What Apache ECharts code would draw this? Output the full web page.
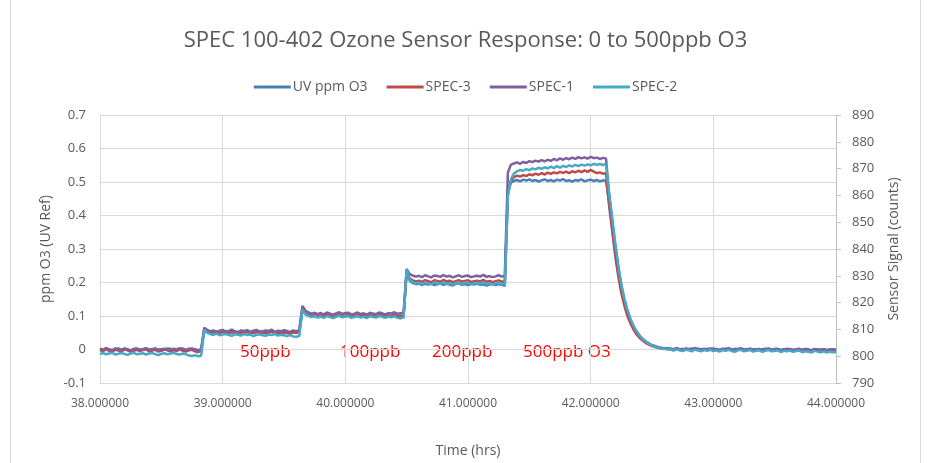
<!DOCTYPE html>
<html><head><meta charset="utf-8">
<script src="https://cdn.jsdelivr.net/npm/echarts@6/dist/echarts.min.js"></script>
<style>html,body{margin:0;padding:0;background:#fff}#c{width:931px;height:463px}</style>
</head><body><div id="c"></div>
<script>
const times = [
38,38.025,38.05,38.075,38.1,38.125,38.15,38.175,38.2,38.225,38.25,38.275,38.3,38.325,38.35,38.375,38.4,38.425,38.45,38.475,38.5,38.525,38.55,38.575,38.6,38.625,38.65,38.675,38.7,38.725,38.75,38.775,38.8,38.825,38.85,38.875,38.9,38.925,38.95,38.975,
39,39.025,39.05,39.075,39.1,39.125,39.15,39.175,39.2,39.225,39.25,39.275,39.3,39.325,39.35,39.375,39.4,39.425,39.45,39.475,39.5,39.525,39.55,39.575,39.6,39.625,39.65,39.675,39.7,39.725,39.75,39.775,39.8,39.825,39.85,39.875,39.9,39.925,39.95,39.975,
40,40.025,40.05,40.075,40.1,40.125,40.15,40.175,40.2,40.225,40.25,40.275,40.3,40.325,40.35,40.375,40.4,40.425,40.45,40.475,40.5,40.525,40.55,40.575,40.6,40.625,40.65,40.675,40.7,40.725,40.75,40.775,40.8,40.825,40.85,40.875,40.9,40.925,40.95,40.975,
41,41.025,41.05,41.075,41.1,41.125,41.15,41.175,41.2,41.225,41.25,41.275,41.3,41.325,41.35,41.375,41.4,41.425,41.45,41.475,41.5,41.525,41.55,41.575,41.6,41.625,41.65,41.675,41.7,41.725,41.75,41.775,41.8,41.825,41.85,41.875,41.9,41.925,41.95,41.975,
42,42.025,42.05,42.075,42.1,42.125,42.15,42.175,42.2,42.225,42.25,42.275,42.3,42.325,42.35,42.375,42.4,42.425,42.45,42.475,42.5,42.525,42.55,42.575,42.6,42.625,42.65,42.675,42.7,42.725,42.75,42.775,42.8,42.825,42.85,42.875,42.9,42.925,42.95,42.975,
43,43.025,43.05,43.075,43.1,43.125,43.15,43.175,43.2,43.225,43.25,43.275,43.3,43.325,43.35,43.375,43.4,43.425,43.45,43.475,43.5,43.525,43.55,43.575,43.6,43.625,43.65,43.675,43.7,43.725,43.75,43.775,43.8,43.825,43.85,43.875,43.9,43.925,43.95,43.975,
44];

// UV reference, ppm O3 (left axis)
const uvPpm = [
0.002,-0.001,0.003,0.000,-0.002,0.001,0.003,-0.001,0.002,0.000,-0.003,0.001,0.002,-0.001,0.000,0.003,0.001,-0.002,0.002,0.000,0.001,-0.001,0.003,0.002,-0.002,0.000,0.001,0.003,-0.001,0.002,0.000,0.001,-0.002,0.001,
0.060,0.055,0.052,0.050,0.053,0.049,0.052,0.054,0.050,0.051,0.053,0.048,0.052,0.050,0.054,0.051,0.049,0.053,0.052,0.050,0.048,0.052,0.054,0.050,0.051,0.053,0.049,0.052,0.050,0.053,0.051,0.054,
0.118,0.106,0.102,0.100,0.103,0.099,0.101,0.098,0.102,0.100,0.097,0.101,0.103,0.099,0.100,0.102,0.098,0.101,0.099,0.103,0.100,0.097,0.101,0.102,0.099,0.100,0.103,0.098,0.101,0.099,0.102,0.100,0.098,0.101,
0.232,0.205,0.198,0.195,0.197,0.193,0.196,0.194,0.198,0.192,0.195,0.197,0.193,0.196,0.194,0.191,0.196,0.198,0.193,0.195,0.192,0.196,0.194,0.197,0.193,0.195,0.191,0.194,0.196,0.192,0.195,0.193,0.190,
0.470,0.498,0.503,0.506,0.502,0.507,0.504,0.508,0.503,0.506,0.501,0.505,0.508,0.503,0.506,0.502,0.507,0.504,0.509,0.503,0.505,0.501,0.506,0.504,0.508,0.502,0.505,0.507,0.503,0.506,0.502,0.505,0.504,
0.440,0.370,0.295,0.232,0.180,0.140,0.108,0.083,0.064,0.049,0.038,0.029,0.022,0.016,0.012,0.009,0.006,0.005,0.003,0.004,
0.002,0.001,0.003,0.000,0.002,-0.001,0.001,0.003,0.000,0.002,
0.001,-0.001,0.002,0.000,0.003,0.001,-0.002,0.001,0.002,0.000,
-0.001,0.002,0.001,0.003,0.000,-0.001,0.002,0.000,0.001,-0.002,
0.001,0.002,0.000,-0.001,0.002,0.001,-0.001,0.000,0.002,0.001,
-0.002,0.000,0.001,-0.001,0.002,0.000,-0.002,0.001,0.000,-0.001,
0.001,-0.002,0.000,0.001,-0.001];

// Sensor signals, counts (right axis)
const spec3 = [
802.3,801.9,802.6,802.0,801.7,802.4,802.1,801.8,802.5,802.2,801.6,802.0,802.4,801.9,802.3,802.6,801.8,802.1,802.4,801.7,802.0,802.5,802.2,801.8,802.3,801.9,802.6,802.0,801.7,802.2,802.4,801.8,801.5,802.0,
809.6,809.0,808.6,808.9,808.4,808.8,809.1,808.5,808.7,809.2,808.6,808.3,808.9,808.7,809.0,808.4,808.8,809.1,808.6,808.5,808.9,808.7,809.2,808.4,808.8,808.6,809.0,808.7,808.3,808.9,808.6,809.1,
818.0,816.0,815.4,815.0,815.3,814.8,815.2,814.7,815.4,815.0,814.6,815.1,815.5,814.9,815.2,815.3,814.7,815.0,815.4,814.8,815.1,814.6,815.3,815.0,814.8,815.4,815.1,814.7,815.2,815.0,815.5,814.9,815.1,815.3,
831.5,829.0,828.3,827.9,828.2,827.7,828.4,828.0,827.6,828.3,828.1,827.8,828.5,827.9,828.2,827.6,828.0,828.4,827.8,828.1,828.3,827.7,828.0,828.2,827.9,828.5,827.8,828.1,827.6,828.0,828.3,827.9,827.7,
861.0,865.5,866.8,867.4,867.0,867.6,867.2,867.9,867.5,868.1,867.7,868.3,867.8,868.5,868.0,868.6,868.2,868.8,868.4,868.9,868.3,869.0,868.6,869.2,868.7,869.3,868.8,869.5,868.9,868.3,868.6,868.1,868.3,
856.3,846.9,837.5,829.8,823.5,818.8,815.0,812.1,809.9,808.1,806.8,805.8,804.9,804.3,803.8,803.4,803.1,802.9,802.8,802.7,
802.6,802.3,802.8,802.4,802.1,802.7,802.5,802.2,802.8,802.4,
802.0,802.6,802.3,802.7,802.2,802.5,802.1,802.6,802.4,802.8,
802.3,802.0,802.5,802.7,802.2,802.4,802.6,802.1,802.3,802.5,
802.0,802.4,802.7,802.2,802.3,802.6,801.9,802.4,802.2,802.5,
802.1,802.3,802.6,802.0,802.4,802.2,801.9,802.5,802.3,802.1,
802.4,802.0,802.3,802.1,802.2];

const spec1 = [
802.8,802.4,803.0,802.5,802.2,802.9,802.6,802.3,802.9,802.5,802.1,802.7,802.9,802.4,802.6,803.0,802.3,802.7,802.9,802.2,802.6,802.8,802.4,802.3,802.8,802.5,803.0,802.6,802.2,802.7,802.9,802.4,802.1,802.5,
810.6,809.8,809.3,809.6,809.1,809.5,809.8,809.2,809.4,809.9,809.3,809.0,809.6,809.4,809.7,809.1,809.5,809.8,809.3,809.2,809.6,809.4,809.9,809.1,809.5,809.3,809.7,809.4,809.0,809.6,809.3,809.8,
818.8,817.0,816.3,815.9,816.2,815.7,816.1,815.6,816.3,815.9,815.5,816.0,816.4,815.8,816.1,816.2,815.6,815.9,816.3,815.7,816.0,815.5,816.2,815.9,815.7,816.3,816.0,815.6,816.1,815.9,816.4,815.8,816.0,816.2,
832.5,830.6,830.1,829.7,830.0,829.5,830.2,829.8,829.4,830.1,829.9,829.6,830.3,829.7,830.0,829.4,829.8,830.2,829.6,829.9,830.1,829.5,829.8,830.0,829.7,830.4,829.6,829.9,829.5,829.8,830.2,829.7,830.0,
868.5,871.5,871.9,872.3,871.8,872.5,872.1,872.8,872.4,873.0,872.6,873.2,872.7,873.3,872.9,873.6,873.1,873.8,873.3,873.9,873.5,874.1,873.6,874.3,873.8,874.2,873.7,874.4,873.9,874.1,873.6,874.0,873.8,
860.0,850.6,841.3,833.1,826.3,821.0,816.9,813.6,811.1,809.1,807.6,806.4,805.5,804.8,804.1,803.8,803.4,803.1,803.0,802.9,
802.8,802.5,803.0,802.6,802.3,802.9,802.7,802.4,803.1,802.6,
802.2,802.8,802.5,802.9,802.4,802.7,802.3,802.8,802.6,803.0,
802.5,802.2,802.7,802.9,802.4,802.6,802.8,802.3,802.5,802.7,
802.2,802.6,802.9,802.4,802.5,802.8,802.1,802.6,802.4,802.7,
802.3,802.5,802.8,802.2,802.6,802.4,802.1,802.7,802.5,802.3,
802.6,802.2,802.5,802.3,802.4];

const spec2 = [
800.8,801.2,800.7,801.0,801.3,800.6,800.9,801.2,800.8,800.5,801.0,801.3,800.7,800.9,801.1,800.6,801.0,801.2,800.8,800.4,800.9,801.1,800.7,801.0,801.3,800.8,800.6,801.0,800.7,800.3,800.1,800.4,800.0,800.2,
809.8,808.7,808.2,808.0,808.4,807.8,808.1,808.3,807.9,807.6,808.2,808.0,807.7,808.3,807.9,808.1,807.5,808.0,808.2,807.8,807.6,808.1,807.9,808.3,807.7,808.0,807.8,807.5,807.9,807.4,807.2,807.6,
817.4,815.6,815.0,814.6,814.9,814.4,814.8,814.3,815.0,814.6,814.2,814.7,815.1,814.5,814.8,814.9,814.3,814.6,815.0,814.4,814.7,814.2,814.9,814.6,814.4,815.0,814.7,814.3,814.8,814.5,814.9,814.3,814.1,814.4,
832.6,828.6,827.6,827.2,827.5,827.0,827.4,827.1,826.8,827.5,827.3,826.9,827.6,827.0,827.3,826.8,827.2,827.5,826.9,827.3,827.4,826.8,827.1,827.4,827.0,827.6,826.9,827.2,826.7,827.1,827.4,827.0,826.6,
859.5,866.0,868.2,869.0,869.5,869.2,869.8,869.4,870.1,869.7,870.3,869.9,870.5,870.1,870.7,870.2,870.9,870.4,871.0,870.6,871.2,870.8,871.4,870.9,871.5,871.1,871.6,871.2,871.8,871.4,871.7,871.3,871.9,
861.3,851.9,842.5,834.0,826.9,821.5,817.3,813.9,811.3,809.3,807.6,806.4,805.4,804.6,804.0,803.5,803.1,802.9,802.8,802.6,
802.5,802.1,802.6,802.2,801.9,802.4,802.2,801.8,802.5,802.1,
801.8,802.3,802.0,802.4,801.9,802.2,801.7,802.3,802.0,802.4,
801.9,801.6,802.2,802.4,801.8,802.0,802.3,801.7,802.0,802.2,
801.6,802.0,802.3,801.8,801.9,802.2,801.5,802.0,801.8,802.1,
801.6,801.9,802.1,801.5,801.8,801.7,801.4,802.0,801.7,801.5,
801.8,801.4,801.7,801.5,801.6];

const seriesNames = ['UV ppm O3','SPEC-3','SPEC-1','SPEC-2'];
const seriesColors = ['#4A7EBB','#BE4B48','#7D60A0','#46AAC5'];
const stepLabels = ['50ppb','100ppb','200ppb','500ppb O3'];

function pairs(vals){ return times.map((t,i)=>[t, vals[i]]); }

const chart = echarts.init(document.getElementById('c'));
const FONT = '"Open Sans", "Liberation Sans", sans-serif';
const txt = '#595959';
const gridCol = '#D9D9D9';
const dataSets = [uvPpm, spec3, spec1, spec2];

chart.setOption({
  animation:false,
  backgroundColor:'#fff',
  title:{text:'SPEC 100-402 Ozone Sensor Response: 0 to 500ppb O3', left:'center', top:25,
    textStyle:{fontFamily:FONT, fontSize:22, fontWeight:'normal', color:txt}},
  legend:{top:75, left:'center', icon:'rect', itemWidth:37, itemHeight:3, itemGap:19,
    textStyle:{fontFamily:FONT, fontSize:14, color:txt, padding:[0,0,0,-3]}, data:seriesNames},
  grid:{left:100, right:95, top:115, bottom:80, outerBoundsMode:'none', containLabel:false},
  xAxis:{type:'value', min:38, max:44, interval:1,
    name:'Time (hrs)', nameLocation:'middle', nameGap:61,
    nameTextStyle:{fontFamily:FONT, fontSize:14, color:txt},
    axisLine:{onZero:false, lineStyle:{color:gridCol}}, axisTick:{show:false},
    axisLabel:{formatter:v=>v.toFixed(6), fontFamily:FONT, fontSize:12, color:txt, margin:15},
    splitLine:{show:true, lineStyle:{color:gridCol}}},
  yAxis:[
    {type:'value', min:-0.1, max:0.7, interval:0.1, position:'left',
     name:'ppm O3 (UV Ref)', nameLocation:'middle', nameGap:46,
     nameTextStyle:{fontFamily:FONT, fontSize:14, color:txt},
     axisLine:{show:true, lineStyle:{color:gridCol}}, axisTick:{show:false},
     axisLabel:{fontFamily:FONT, fontSize:13, color:txt, margin:14, formatter:v=>String(Math.round(v*10)/10)},
     splitLine:{show:true, lineStyle:{color:gridCol}}},
    {type:'value', min:790, max:890, interval:10, position:'right',
     name:'Sensor Signal (counts)', nameLocation:'middle', nameGap:51,
     nameTextStyle:{fontFamily:FONT, fontSize:14, color:txt},
     axisLine:{show:true, lineStyle:{color:'#BFBFBF'}}, axisTick:{show:true, length:5, lineStyle:{color:'#BFBFBF'}},
     axisLabel:{fontFamily:FONT, fontSize:13, color:txt, margin:16},
     splitLine:{show:false}}
  ],
  series: seriesNames.map((n,k)=>({
    name:n, type:'line', yAxisIndex:k===0?0:1, data:pairs(dataSets[k]),
    symbol:'none', showSymbol:false, color:seriesColors[k],
    lineStyle:{width:2.5, color:seriesColors[k]}, z:2+k
  })),
  graphic:[
    {type:'rect', shape:{x:10.5, y:-5, width:910, height:475}, style:{fill:'none', stroke:'#D9D9D9', lineWidth:1}, silent:true},
    {type:'text', left:240, top:344, style:{text:stepLabels[0], fill:'#FF0000', font:'17px '+FONT}},
    {type:'text', left:340, top:344, style:{text:stepLabels[1], fill:'#FF0000', font:'17px '+FONT}},
    {type:'text', left:432, top:344, style:{text:stepLabels[2], fill:'#FF0000', font:'17px '+FONT}},
    {type:'text', left:523, top:344, style:{text:stepLabels[3], fill:'#FF0000', font:'17px '+FONT}}
  ]
});
</script></body></html>
